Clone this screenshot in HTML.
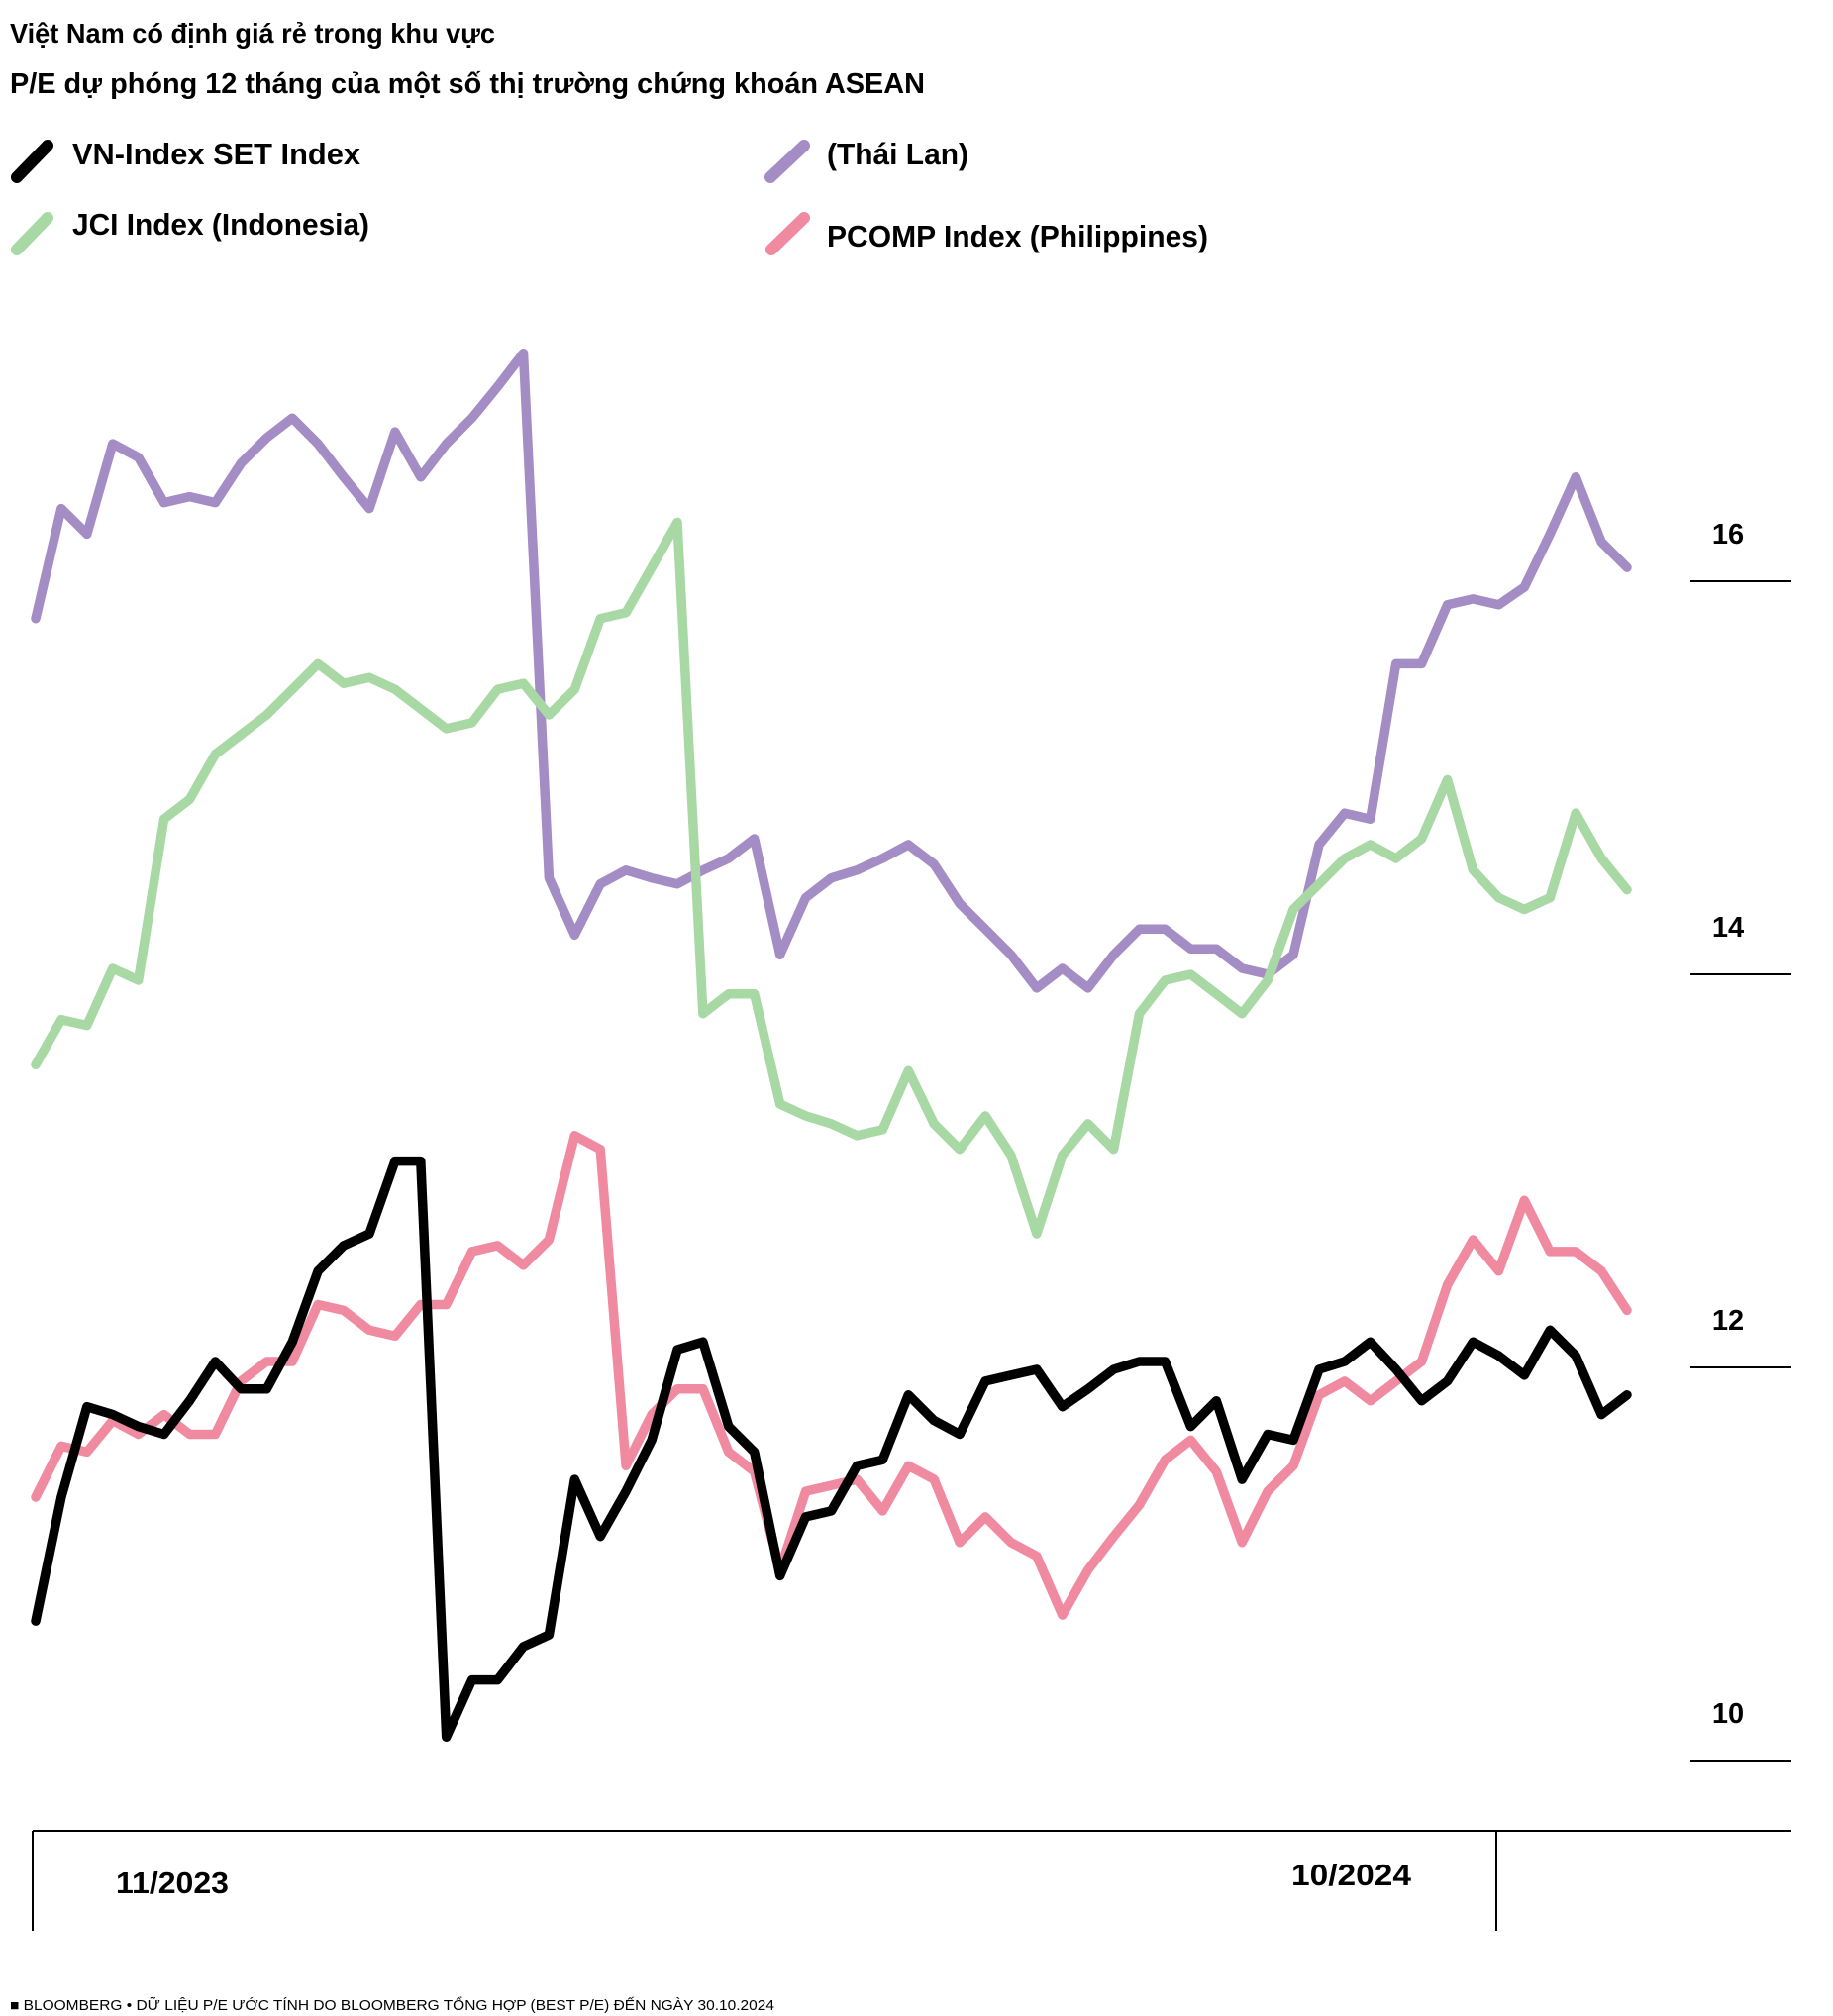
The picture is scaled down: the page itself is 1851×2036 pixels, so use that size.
<!DOCTYPE html>
<html><head><meta charset="utf-8"><style>
html,body{margin:0;padding:0;background:#fff;}
svg{display:block;}
text{font-family:"Liberation Sans Narrow","Liberation Sans","Noto Sans CJK SC",sans-serif;font-weight:bold;fill:#000;}
</style></head><body>
<svg id="chart" width="1851" height="2036" viewBox="0 0 1851 2036" xmlns="http://www.w3.org/2000/svg">
<text x="10" y="43" font-size="28" textLength="490" lengthAdjust="spacingAndGlyphs">Việt Nam có định giá rẻ trong khu vực</text>
<text x="10" y="94" font-size="29" textLength="924" lengthAdjust="spacingAndGlyphs">P/E dự phóng 12 tháng của một số thị trường chứng khoán ASEAN</text>
<g>
<g><line x1="17" y1="179" x2="48" y2="147" stroke="#000" stroke-width="12" stroke-linecap="round"/><text x="73" y="166" font-size="31" textLength="291" lengthAdjust="spacingAndGlyphs">VN-Index  SET Index</text></g>
<g><line x1="778" y1="179" x2="812" y2="147" stroke="#a48cc4" stroke-width="12" stroke-linecap="round"/><text x="835" y="166" font-size="31" textLength="143" lengthAdjust="spacingAndGlyphs">(Thái Lan)</text></g>
<g><line x1="17" y1="252" x2="48" y2="220" stroke="#a8d8a4" stroke-width="12" stroke-linecap="round"/><text x="73" y="237" font-size="31" textLength="300" lengthAdjust="spacingAndGlyphs">JCI Index (Indonesia)</text></g>
<g><line x1="779" y1="252" x2="812" y2="220" stroke="#f08aa0" stroke-width="12" stroke-linecap="round"/><text x="835" y="249" font-size="31" textLength="385" lengthAdjust="spacingAndGlyphs">PCOMP Index (Philippines)</text></g>
</g>
<g id="grid"></g>
<g id="series"></g>
<line x1="33" y1="1849" x2="1809" y2="1849" stroke="#000" stroke-width="2"/>
<line x1="33" y1="1849" x2="33" y2="1950" stroke="#000" stroke-width="2"/>
<line x1="1511" y1="1849" x2="1511" y2="1950" stroke="#000" stroke-width="2"/>
<text x="117" y="1912" font-size="31" textLength="114" lengthAdjust="spacingAndGlyphs">11/2023</text>
<text x="1304" y="1904" font-size="31" textLength="121" lengthAdjust="spacingAndGlyphs">10/2024</text>
<text x="10" y="2030" font-size="15" style="font-weight:normal" textLength="772" lengthAdjust="spacingAndGlyphs">■ BLOOMBERG • DỮ LIỆU P/E ƯỚC TÍNH DO BLOOMBERG TỔNG HỢP (BEST P/E) ĐẾN NGÀY 30.10.2024</text>
</svg>
<script>
const yTicks = [10, 12, 14, 16];
const yTickLabels = ["10", "12", "14", "16"];
const seriesNames = ["thai-set", "jci", "pcomp", "vn-index"];
const thaiValues = [15.81,16.37,16.24,16.70,16.63,16.40,16.43,16.40,16.60,16.73,16.83,16.70,16.53,16.37,16.76,16.53,16.70,16.83,16.99,17.16,14.49,14.20,14.46,14.53,14.49,14.46,14.53,14.59,14.69,14.10,14.39,14.49,14.53,14.59,14.66,14.56,14.36,14.23,14.10,13.93,14.03,13.93,14.10,14.23,14.23,14.13,14.13,14.03,14.00,14.10,14.66,14.82,14.79,15.58,15.58,15.88,15.91,15.88,15.97,16.24,16.53,16.20,16.07];
const jciValues = [13.54,13.77,13.74,14.03,13.97,14.79,14.89,15.12,15.22,15.32,15.45,15.58,15.48,15.51,15.45,15.35,15.25,15.28,15.45,15.48,15.32,15.45,15.81,15.84,16.07,16.30,13.80,13.90,13.90,13.34,13.28,13.24,13.18,13.21,13.51,13.24,13.11,13.28,13.08,12.68,13.08,13.24,13.11,13.80,13.97,14.00,13.90,13.80,13.97,14.33,14.46,14.59,14.66,14.59,14.69,14.99,14.53,14.39,14.33,14.39,14.82,14.59,14.43];
const pcompValues = [11.34,11.60,11.57,11.73,11.66,11.76,11.66,11.66,11.93,12.03,12.03,12.32,12.29,12.19,12.16,12.32,12.32,12.59,12.62,12.52,12.65,13.18,13.11,11.50,11.76,11.89,11.89,11.57,11.47,10.97,11.37,11.40,11.43,11.27,11.50,11.43,11.11,11.24,11.11,11.04,10.74,10.97,11.14,11.30,11.53,11.63,11.47,11.11,11.37,11.50,11.86,11.93,11.83,11.93,12.03,12.42,12.65,12.49,12.85,12.59,12.59,12.49,12.29];
const vnValues = [10.71,11.34,11.80,11.76,11.70,11.66,11.83,12.03,11.89,11.89,12.13,12.49,12.62,12.68,13.05,13.05,10.12,10.41,10.41,10.58,10.64,11.43,11.14,11.37,11.63,12.09,12.13,11.70,11.57,10.94,11.24,11.27,11.50,11.53,11.86,11.73,11.66,11.93,11.96,11.99,11.80,11.89,11.99,12.03,12.03,11.70,11.83,11.43,11.66,11.63,11.99,12.03,12.13,11.99,11.83,11.93,12.13,12.06,11.96,12.19,12.06,11.76,11.86];
const seriesColors = ["#a48cc4", "#a8d8a4", "#f08aa0", "#000000"];

const NS = "http://www.w3.org/2000/svg";
const X0 = 36, X1 = 1643;
const Y_AT_10 = 1778, PX_PER_UNIT = 198.5;
function xScale(i, n) { return X0 + (X1 - X0) * i / (n - 1); }
function yScale(v) { return Y_AT_10 - (v - 10) * PX_PER_UNIT; }

const grid = document.getElementById("grid");
yTicks.forEach((t, k) => {
  const y = yScale(t);
  const ln = document.createElementNS(NS, "line");
  ln.setAttribute("x1", 1707); ln.setAttribute("x2", 1809);
  ln.setAttribute("y1", y); ln.setAttribute("y2", y);
  ln.setAttribute("stroke", "#000"); ln.setAttribute("stroke-width", "2");
  
  
  grid.appendChild(ln);
  const tx = document.createElementNS(NS, "text");
  tx.setAttribute("x", 1745); tx.setAttribute("y", y - 38);
  tx.setAttribute("text-anchor", "middle");
  tx.setAttribute("font-size", "29");
  tx.style.fontFamily = '"Liberation Sans", sans-serif';
  tx.textContent = yTickLabels[k];
  
  
  grid.appendChild(tx);
});

const seriesG = document.getElementById("series");
[thaiValues, jciValues, pcompValues, vnValues].forEach((vals, s) => {
  const pts = vals.map((v, i) => xScale(i, vals.length).toFixed(1) + "," + yScale(v).toFixed(1)).join(" ");
  const pl = document.createElementNS(NS, "polyline");
  pl.setAttribute("points", pts);
  pl.setAttribute("fill", "none");
  pl.setAttribute("stroke", seriesColors[s]);
  pl.setAttribute("stroke-width", "9.5");
  pl.setAttribute("stroke-linejoin", "round");
  pl.setAttribute("stroke-linecap", "round");
  
  
  seriesG.appendChild(pl);
});
</script>
</body></html>
